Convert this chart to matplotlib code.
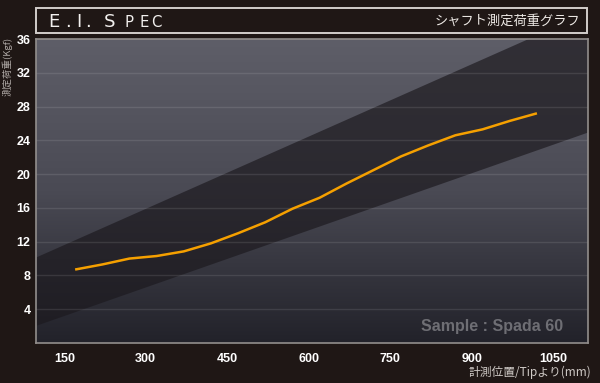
import numpy as np
import matplotlib
matplotlib.use("Agg")
import matplotlib.pyplot as plt
from matplotlib.colors import LinearSegmentedColormap
from matplotlib.patches import Rectangle

plt.rcParams['font.family'] = ['Liberation Sans', 'Noto Sans CJK JP', 'DejaVu Sans']

# measured load along the shaft (mm from tip -> kgf)
pos_mm = [170, 220, 270, 320, 370, 420, 470, 520, 570,
          620, 670, 720, 770, 820, 870, 920, 970, 1020]
load_kgf = [8.7, 9.3, 10.0, 10.3, 10.85, 11.8, 13.0, 14.3, 15.9,
            17.2, 18.9, 20.5, 22.1, 23.4, 24.6, 25.3, 26.3, 27.2]

xticks = [150, 300, 450, 600, 750, 900, 1050]
yticks = [4, 8, 12, 16, 20, 24, 28, 32, 36]

# dark diagonal band behind the curve
band_x = [98, 1114]
band_low = [2.1, 25.0]
band_high = [10.2, 39.2]

BG = '#1f1715'
W, H = 600, 383


def fxy(x, y):
    # pixel coords (top-left origin) -> figure fraction
    return x / W, 1 - y / H


fig = plt.figure(figsize=(6, 3.83), dpi=100, facecolor=BG)
ax = fig.add_axes([36 / W, 1 - 343 / H, 552 / W, 304 / H])
ax.set_xlim(98, 1114)
ax.set_ylim(0, 36)

# background gradient
cmap = LinearSegmentedColormap.from_list('bg', ['#5e5e68', '#4a4a54', '#22222a'])
ax.imshow(np.linspace(0, 1, 256).reshape(-1, 1), extent=[98, 1114, 0, 36],
          aspect='auto', cmap=cmap, zorder=0, interpolation='bicubic')
ax.fill_between(band_x, band_low, band_high, color='#1c191e', alpha=0.68,
                lw=0, zorder=1)

for yv in yticks[:-1]:
    ax.axhline(yv, color='white', alpha=0.1, lw=1.0, zorder=2)

ax.plot(pos_mm, load_kgf, color='#f5a000', lw=1.8, zorder=3,
        solid_capstyle='butt')

ax.set_xticks(xticks)
ax.set_yticks(yticks)
ax.tick_params(length=0, colors='white', labelsize=9)
ax.tick_params(axis='y', pad=4)
ax.tick_params(axis='x', pad=7)
for lb in ax.get_xticklabels() + ax.get_yticklabels():
    lb.set_fontweight('bold')
for s in ax.spines.values():
    s.set_color('#928e8c')
    s.set_linewidth(1.2)

ax.text(0.955, 0.055, 'Sample : Spada 60', transform=ax.transAxes,
        ha='right', va='center', color='#6e6e74', fontsize=11.5,
        fontweight='bold', zorder=4)

# header box
fig.patches.append(Rectangle(fxy(36, 33.3), 551 / W, 25 / H,
                             transform=fig.transFigure, fill=False,
                             ec='#d2cdca', lw=1.4))
title_big = [('E', 54), ('.', 67.7), ('I', 78.5), ('.', 88), ('S', 110)]
title_small = [('P', 129), ('E', 144), ('C', 156)]
for ch, xp in title_big:
    fig.text(*fxy(xp, 27.3), ch, ha='center', va='baseline', color='#f2f0ee',
             fontsize=13.1, family='DejaVu Sans')
for ch, xp in title_small:
    fig.text(*fxy(xp, 27.3), ch, ha='center', va='baseline', color='#f2f0ee',
             fontsize=10.7, family='DejaVu Sans')
fig.text(*fxy(580, 21), 'シャフト測定荷重グラフ', ha='right', va='center',
         color='#ece8e4', fontsize=9.5,
         family=['Noto Sans CJK JP', 'DejaVu Sans'])

fig.text(*fxy(7, 66), '測定荷重(Kgf)', rotation=90, ha='center', va='center',
         color='#b0aaa7', fontsize=6.8,
         family=['Noto Sans CJK JP', 'DejaVu Sans'])
fig.text(*fxy(591, 372), '計測位置/Tipより(mm)', ha='right', va='center',
         color='#cfcac6', fontsize=8.5,
         family=['Noto Sans CJK JP', 'DejaVu Sans'])

fig.savefig('out.png', dpi=100, facecolor=BG)
